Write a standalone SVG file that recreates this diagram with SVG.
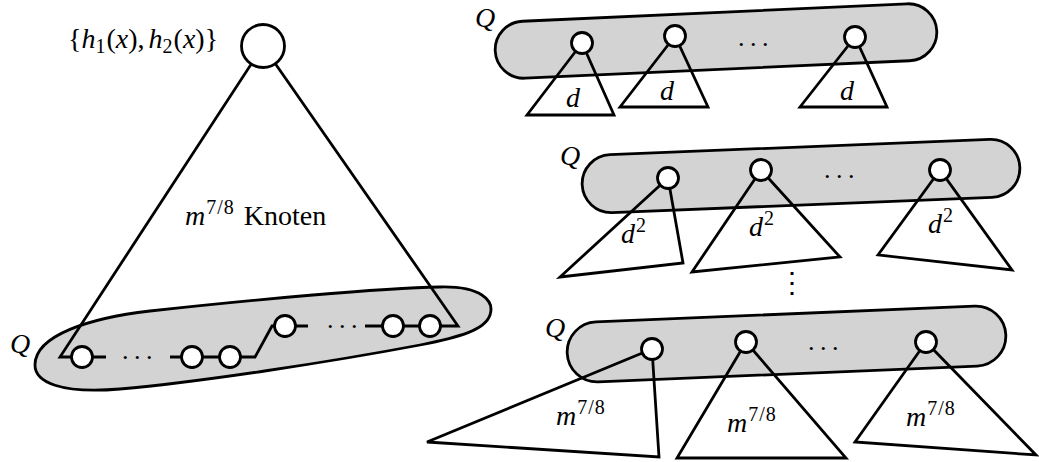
<svg xmlns="http://www.w3.org/2000/svg" width="1039" height="462" viewBox="0 0 1039 462">
<style>
text{font-family:"Liberation Serif","Times New Roman",serif;font-size:28px;fill:#000}
.it{font-style:italic}
.sup{font-size:20px;letter-spacing:1px}
.sub{font-size:20px}
.blob{fill:#d3d3d3;stroke:#000;stroke-width:2.8}
.edge{fill:none;stroke:#000;stroke-width:2.8;stroke-linejoin:miter}
.node{fill:#fff;stroke:#000;stroke-width:2.8}
.dots{font-size:26px;letter-spacing:5.5px}
</style>
<g id="blobs">
<path id="blob-left" class="blob" d="M 35,365 C 35,335 90,318 150,311 C 250,300 380,288 440,287 C 480,286 495,300 490,315 C 485,330 460,337 420,345 C 330,362 200,382 120,389 C 60,394 35,382 35,365 Z"/>
<rect id="blob-top" class="blob" x="495" y="12.5" width="442" height="57" rx="28.5" transform="rotate(-2.6 716 41)"/>
<rect id="blob-mid" class="blob" x="582" y="147" width="438" height="58" rx="29" transform="rotate(-2.3 801 176)"/>
<rect id="blob-bot" class="blob" x="567" y="314" width="439" height="60" rx="30" transform="rotate(-2.4 786.5 344)"/>
</g>
<g id="connectors">
<path class="edge" d="M 263,46 L 60,357 L 82,357"/>
<path class="edge" d="M 263,46 L 458,326 L 430,326"/>
<path class="edge" d="M 82,357 L 106,357 M 170,357 L 230,357 L 255,357 L 272,326 L 308,326 M 365,326 L 430,326"/>
<path class="edge" d="M 582,43 L 527,115 L 614,115 Z"/>
<path class="edge" d="M 675,36 L 620,107 L 708,107 Z"/>
<path class="edge" d="M 855,37 L 800,107 L 887,107 Z"/>
<path class="edge" d="M 668,178 L 560,277 L 683,263 Z"/>
<path class="edge" d="M 761,170 L 692,272 L 840,257 Z"/>
<path class="edge" d="M 940,170 L 878,255 L 1012,270 Z"/>
<path class="edge" d="M 652,349 L 427,442 L 659,457 Z"/>
<path class="edge" d="M 746,342 L 677,458 L 846,458 Z"/>
<path class="edge" d="M 926,342 L 855,442 L 1036,455 Z"/>
</g>
<g id="root">
<circle class="node" cx="263" cy="46" r="21.5"/>
<text x="68" y="48" font-size="29">{<tspan class="it">h</tspan><tspan class="sub" dy="5">1</tspan><tspan dy="-5" dx="1">(</tspan><tspan class="it">x</tspan>),<tspan class="it" dx="4">h</tspan><tspan class="sub" dy="5">2</tspan><tspan dy="-5" dx="1">(</tspan><tspan class="it">x</tspan>)}</text>
</g>
<g id="left-nodes">
<circle class="node" cx="82" cy="357" r="10.5"/>
<circle class="node" cx="192" cy="357" r="10.5"/>
<circle class="node" cx="230" cy="357" r="10.5"/>
<circle class="node" cx="285" cy="326" r="10.5"/>
<circle class="node" cx="393" cy="326" r="10.5"/>
<circle class="node" cx="430" cy="326" r="10.5"/>
<text class="dots" x="122" y="359">...</text>
<text class="dots" x="327" y="328">...</text>
<text class="it" x="10" y="353">Q</text>
<text x="185" y="225"><tspan class="it">m</tspan><tspan class="sup" dy="-11" dx="1">7/8</tspan><tspan dy="11" dx="2"> Knoten</tspan></text>
</g>
<g id="top-row">
<circle class="node" cx="582" cy="43" r="10.5"/>
<circle class="node" cx="675" cy="36" r="10.5"/>
<circle class="node" cx="855" cy="37" r="10.5"/>
<text class="dots" x="738" y="46">...</text>
<text class="it" x="475" y="27">Q</text>
<text class="it" x="566" y="107">d</text>
<text class="it" x="660" y="100">d</text>
<text class="it" x="840" y="100">d</text>
</g>
<g id="mid-row">
<circle class="node" cx="668" cy="178" r="10.5"/>
<circle class="node" cx="761" cy="170" r="10.5"/>
<circle class="node" cx="940" cy="170" r="10.5"/>
<text class="dots" x="824" y="178">...</text>
<text class="it" x="560" y="165">Q</text>
<text x="621" y="243"><tspan class="it">d</tspan><tspan class="sup" dy="-11" dx="1">2</tspan></text>
<text x="749" y="236"><tspan class="it">d</tspan><tspan class="sup" dy="-11" dx="1">2</tspan></text>
<text x="928" y="233"><tspan class="it">d</tspan><tspan class="sup" dy="-11" dx="1">2</tspan></text>
<text x="778" y="292" font-size="22">⋮</text>
</g>
<g id="bot-row">
<circle class="node" cx="652" cy="349" r="10.5"/>
<circle class="node" cx="746" cy="342" r="10.5"/>
<circle class="node" cx="926" cy="342" r="10.5"/>
<text class="dots" x="808" y="350">...</text>
<text class="it" x="545" y="337">Q</text>
<text x="556" y="425"><tspan class="it">m</tspan><tspan class="sup" dy="-11" dx="1">7/8</tspan></text>
<text x="727" y="432"><tspan class="it">m</tspan><tspan class="sup" dy="-11" dx="1">7/8</tspan></text>
<text x="906" y="426"><tspan class="it">m</tspan><tspan class="sup" dy="-11" dx="1">7/8</tspan></text>
</g>
</svg>
